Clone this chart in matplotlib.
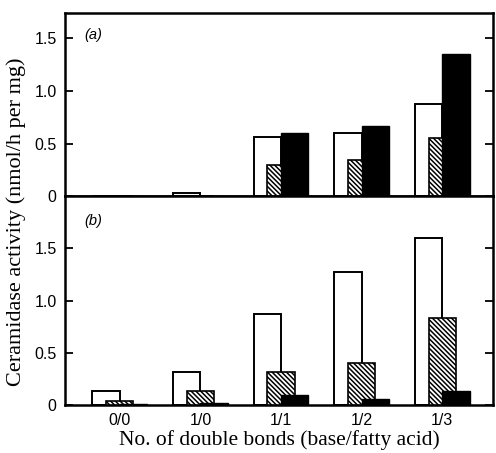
import matplotlib
matplotlib.use("Agg")
import matplotlib.pyplot as plt
import numpy as np

plt.rcParams['hatch.linewidth'] = 1.1

groups = ['0/0', '1/0', '1/1', '1/2', '1/3']

# panel (a)
a_open = [0.0, 0.03, 0.56, 0.60, 0.88]
a_hatched = [0.0, 0.0, 0.30, 0.34, 0.55]
a_black = [0.0, 0.0, 0.60, 0.67, 1.35]

# panel (b)
b_open = [0.135, 0.32, 0.875, 1.27, 1.60]
b_hatched = [0.04, 0.135, 0.32, 0.40, 0.83]
b_black = [0.01, 0.02, 0.10, 0.06, 0.13]

yticks = [0, 0.5, 1.0, 1.5]
yticklabels = ['0', '0.5', '1.0', '1.5']

fig = plt.figure(figsize=(4.96, 4.53), dpi=100)
ax_a = fig.add_axes([0.131, 0.567, 0.863, 0.404])
ax_b = fig.add_axes([0.131, 0.106, 0.863, 0.461])

x = np.arange(len(groups))
w = 0.34
tickfont = dict(family='Liberation Sans', size=11.5)


def draw_panel(ax, op, ha, bl, top, tag):
    ax.bar(x - w / 2, op, w, color='white', edgecolor='black', linewidth=1.4, zorder=2)
    ax.bar(x, ha, w, color='white', edgecolor='black', linewidth=1.2, hatch='\\' * 7, zorder=3)
    ax.bar(x + w / 2, bl, w, color='black', edgecolor='black', linewidth=1.0, zorder=4)
    ax.set_xlim(-0.68, 4.63)
    ax.set_ylim(0, top)
    ax.set_yticks(yticks)
    ax.set_yticklabels(yticklabels, fontdict=tickfont)
    ax.tick_params(axis='y', direction='in', right=True, length=6, width=1.3, pad=6)
    ax.tick_params(axis='x', length=0)
    for s in ax.spines.values():
        s.set_linewidth(1.8)
    ax.text(0.045, 0.86, '(' + tag + ')', transform=ax.transAxes,
            fontsize=10.5, family='Liberation Sans', style='italic')


draw_panel(ax_a, a_open, a_hatched, a_black, 1.74, 'a')
draw_panel(ax_b, b_open, b_hatched, b_black, 2.0, 'b')

ax_a.set_xticks([])
ax_b.set_xticks(x)
ax_b.set_xticklabels(groups, fontdict=tickfont)
ax_b.tick_params(axis='x', pad=6)

ax_b.set_xlabel('No. of double bonds (base/fatty acid)', family='Liberation Serif', fontsize=15.5, labelpad=1)
fig.text(0.032, 0.51, 'Ceramidase activity (nmol/h per mg)', rotation=90, va='center', ha='center',
         family='Liberation Serif', fontsize=16)

fig.savefig('out.png', dpi=100)
